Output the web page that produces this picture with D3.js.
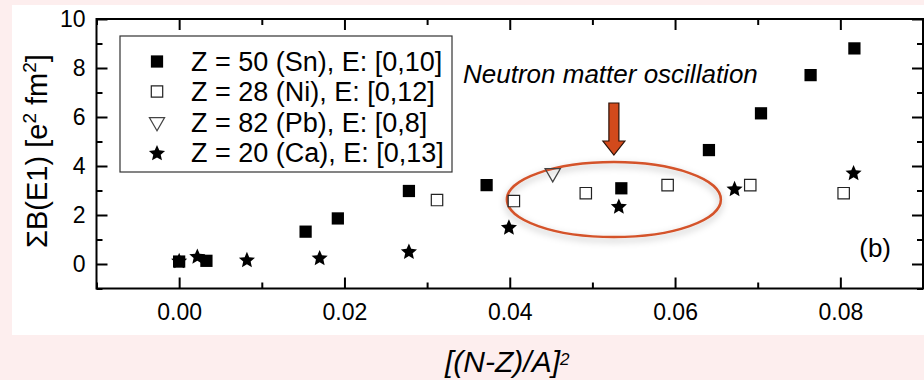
<!DOCTYPE html>
<html>
<head>
<meta charset="utf-8">
<script src="https://cdn.jsdelivr.net/npm/d3@7"></script>
<style>
  html, body { margin: 0; padding: 0; background: #fdeeee; }
  svg { display: block; }
  text { font-family: "Liberation Sans", Arial, Helvetica, sans-serif; fill: #000; }
</style>
</head>
<body>
<svg id="chart" width="924" height="380"></svg>
<script>
// ---------------- data ----------------
const snX = [0.0000, 0.0033, 0.0153, 0.0192, 0.0278, 0.0372, 0.0535, 0.0641, 0.0704, 0.0764, 0.0817];
const snY = [0.10, 0.13, 1.32, 1.86, 2.98, 3.22, 3.09, 4.65, 6.15, 7.71, 8.80];

const niX = [0.0312, 0.0405, 0.0492, 0.0591, 0.0691, 0.0804];
const niY = [2.61, 2.57, 2.89, 3.22, 3.22, 2.89];

const pbX = [0.0452];
const pbY = [3.71];

const caX = [0.0000, 0.0022, 0.0082, 0.0170, 0.0278, 0.0399, 0.0532, 0.0672, 0.0816];
const caY = [0.15, 0.33, 0.19, 0.27, 0.53, 1.52, 2.37, 3.09, 3.74];

const seriesNames = ["Z = 50 (Sn), E: [0,10]", "Z = 28 (Ni), E: [0,12]", "Z = 82 (Pb), E: [0,8]", "Z = 20 (Ca), E: [0,13]"];

const xMajorTicks = [0.00, 0.02, 0.04, 0.06, 0.08];
const xMinorTicks = [-0.01, 0.01, 0.03, 0.05, 0.07, 0.09];
const yMajorTicks = [0, 2, 4, 6, 8, 10];
const yMinorTicks = [-1, 1, 3, 5, 7, 9];

const xDomain = [-0.01, 0.09];
const yDomain = [-1, 10];

// annotation (data coordinates)
const annotationText = "Neutron matter oscillation";
const ellipseCenter = [0.0526, 2.63];
const ellipseRadii = [0.01295, 1.53];
const panelLabel = "(b)";

// ---------------- drawing ----------------
const svg = d3.select("#chart");
const W = 924, H = 380;

svg.append("rect").attr("x", 0).attr("y", 0).attr("width", W).attr("height", H).attr("fill", "#fdeeee");
svg.append("rect").attr("x", 12).attr("y", 5).attr("width", W - 12).attr("height", 330).attr("fill", "#ffffff");

const plot = { left: 96.5, right: 923, top: 19, bottom: 288.5 };
const x = d3.scaleLinear().domain(xDomain).range([plot.left, plot.right]);
const y = d3.scaleLinear().domain(yDomain).range([plot.bottom, plot.top]);

const defs = svg.append("defs");
const f = defs.append("filter").attr("id", "shadow").attr("x", "-20%").attr("y", "-40%").attr("width", "140%").attr("height", "180%");
f.append("feDropShadow").attr("dx", 0).attr("dy", 3).attr("stdDeviation", 3.5)
  .attr("flood-color", "#000").attr("flood-opacity", 0.3);

// axes
function styleAxis(g) {
  g.select(".domain").remove();
  g.selectAll(".tick line").attr("stroke", "#000").attr("stroke-width", 2);
  g.selectAll(".tick text").attr("font-size", 23).attr("font-family", '"Liberation Sans", Arial, sans-serif');
}
const fmtX = d3.format(".2f");

svg.append("g").attr("transform", `translate(0,${plot.bottom})`)
  .call(d3.axisBottom(x).tickValues(xMajorTicks).tickFormat(fmtX).tickSize(-11).tickPadding(15))
  .call(styleAxis);
svg.append("g").attr("transform", `translate(0,${plot.bottom})`)
  .call(d3.axisBottom(x).tickValues(xMinorTicks).tickFormat("").tickSize(-6))
  .call(styleAxis);
svg.append("g").attr("transform", `translate(0,${plot.top})`)
  .call(d3.axisTop(x).tickValues(xMajorTicks).tickFormat("").tickSize(-11))
  .call(styleAxis);
svg.append("g").attr("transform", `translate(0,${plot.top})`)
  .call(d3.axisTop(x).tickValues(xMinorTicks).tickFormat("").tickSize(-6))
  .call(styleAxis);

svg.append("g").attr("transform", `translate(${plot.left},0)`)
  .call(d3.axisLeft(y).tickValues(yMajorTicks).tickFormat(d3.format("d")).tickSize(-11).tickPadding(11))
  .call(styleAxis);
svg.append("g").attr("transform", `translate(${plot.left},0)`)
  .call(d3.axisLeft(y).tickValues(yMinorTicks).tickFormat("").tickSize(-6))
  .call(styleAxis);
svg.append("g").attr("transform", `translate(${plot.right},0)`)
  .call(d3.axisRight(y).tickValues(yMajorTicks).tickFormat("").tickSize(-11))
  .call(styleAxis);
svg.append("g").attr("transform", `translate(${plot.right},0)`)
  .call(d3.axisRight(y).tickValues(yMinorTicks).tickFormat("").tickSize(-6))
  .call(styleAxis);

svg.append("rect").attr("x", plot.left).attr("y", plot.top)
  .attr("width", plot.right - plot.left).attr("height", plot.bottom - plot.top)
  .attr("fill", "none").attr("stroke", "#000").attr("stroke-width", 2);

// axis titles
const yt = svg.append("text").attr("transform", "translate(47,151) rotate(-90)")
  .attr("text-anchor", "middle").attr("font-size", 29);
yt.append("tspan").text("ΣB(E1) [e");
yt.append("tspan").attr("font-size", 19).attr("dy", -11).text("2");
yt.append("tspan").attr("dy", 11).text(" fm");
yt.append("tspan").attr("font-size", 19).attr("dy", -11).text("2");
yt.append("tspan").attr("dy", 11).text("]");

const xt = svg.append("text").attr("x", 445).attr("y", 372)
  .attr("font-size", 30).attr("font-style", "italic");
xt.append("tspan").text("[(N-Z)/A]");
xt.append("tspan").attr("font-size", 17).attr("dx", 0).attr("dy", -7).text("2");

// ellipse annotation
svg.append("ellipse")
  .attr("cx", x(ellipseCenter[0])).attr("cy", y(ellipseCenter[1]))
  .attr("rx", x(ellipseCenter[0] + ellipseRadii[0]) - x(ellipseCenter[0]))
  .attr("ry", y(ellipseCenter[1]) - y(ellipseCenter[1] + ellipseRadii[1]))
  .attr("fill", "none").attr("stroke", "#d4532a").attr("stroke-width", 2.5)
  .attr("filter", "url(#shadow)");

// arrow
const ax = x(ellipseCenter[0]);
const arrowTop = 103, arrowHeadBase = 141, arrowTip = 155;
const arrowPath = d3.path();
arrowPath.moveTo(ax - 5, arrowTop);
arrowPath.lineTo(ax + 5, arrowTop);
arrowPath.lineTo(ax + 5, arrowHeadBase);
arrowPath.lineTo(ax + 11, arrowHeadBase);
arrowPath.lineTo(ax, arrowTip);
arrowPath.lineTo(ax - 11, arrowHeadBase);
arrowPath.lineTo(ax - 5, arrowHeadBase);
arrowPath.closePath();
svg.append("path").attr("d", arrowPath.toString())
  .attr("fill", "#d24a1c").attr("stroke", "#2a1208").attr("stroke-width", 1.2)
  .attr("stroke-linejoin", "miter");

svg.append("text").attr("x", 463).attr("y", 83).attr("font-size", 26)
  .attr("font-style", "italic").text(annotationText);

svg.append("text").attr("x", 891).attr("y", 257).attr("font-size", 26)
  .attr("text-anchor", "end").text(panelLabel);

// markers
const fatStar = {
  draw(context, size) {
    const R = Math.sqrt(size) , r = R * 0.46;
    for (let i = 0; i < 10; i++) {
      const a = -Math.PI / 2 + i * Math.PI / 5;
      const rad = i % 2 === 0 ? R : r;
      const px = rad * Math.cos(a), py = rad * Math.sin(a);
      if (i === 0) context.moveTo(px, py); else context.lineTo(px, py);
    }
    context.closePath();
  }
};
const sq = d3.symbol().type(d3.symbolSquare).size(150)();
const sqOpen = d3.symbol().type(d3.symbolSquare).size(130)();
const tri = d3.symbol().type(d3.symbolTriangle).size(100)();
const star = d3.symbol().type(fatStar).size(72)();

const gData = svg.append("g");
gData.selectAll(".ca").data(caX.map((v, i) => [v, caY[i]])).join("path")
  .attr("d", star).attr("transform", d => `translate(${x(d[0])},${y(d[1]) + 1})`).attr("fill", "#000");
gData.selectAll(".sn").data(snX.map((v, i) => [v, snY[i]])).join("path")
  .attr("d", sq).attr("transform", d => `translate(${x(d[0])},${y(d[1])})`).attr("fill", "#000");
gData.selectAll(".ni").data(niX.map((v, i) => [v, niY[i]])).join("path")
  .attr("d", sqOpen).attr("transform", d => `translate(${x(d[0])},${y(d[1])})`)
  .attr("fill", "#fff").attr("stroke", "#222").attr("stroke-width", 1.2);
gData.selectAll(".pb").data(pbX.map((v, i) => [v, pbY[i]])).join("path")
  .attr("d", tri).attr("transform", d => `translate(${x(d[0])},${y(d[1])}) rotate(180)`)
  .attr("fill", "none").attr("stroke", "#444").attr("stroke-width", 1.3);

// legend
const lg = svg.append("g");
lg.append("rect").attr("x", 120).attr("y", 36).attr("width", 332).attr("height", 136)
  .attr("fill", "#fff").attr("stroke", "#333").attr("stroke-width", 1.2);
const rowY = [61.5, 91.5, 122, 152.5];
const legendSyms = [
  { d: sq, fill: "#000", stroke: "none", rot: 0 },
  { d: sqOpen, fill: "#fff", stroke: "#222", rot: 0 },
  { d: tri, fill: "none", stroke: "#444", rot: 180 },
  { d: star, fill: "#000", stroke: "none", rot: 0 }
];
seriesNames.forEach((name, i) => {
  const s = legendSyms[i];
  lg.append("path").attr("d", s.d)
    .attr("transform", `translate(157,${rowY[i] + (i === 3 ? 1 : 0)}) rotate(${s.rot})`)
    .attr("fill", s.fill).attr("stroke", s.stroke).attr("stroke-width", 1.2);
  lg.append("text").attr("x", 191).attr("y", rowY[i] + 9.5).attr("font-size", 27).text(name);
});
</script>
</body>
</html>
